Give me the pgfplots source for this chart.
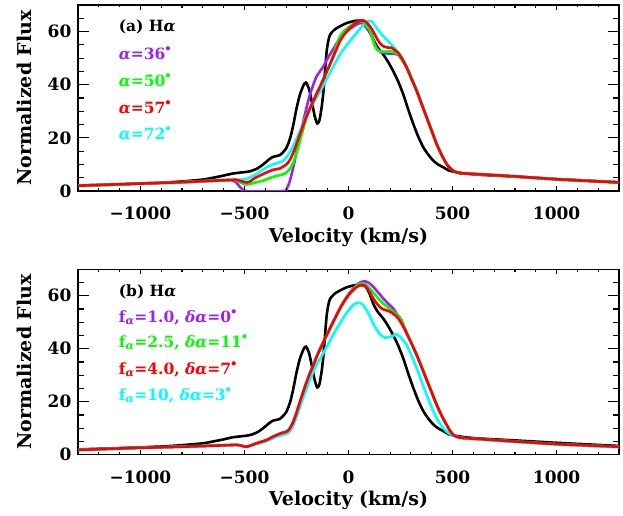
\documentclass[border=0pt]{standalone}
\usepackage{graphicx}
\usepackage{fontspec}
\setmainfont{DejaVu Serif}
\usepackage{pgfplots}
\usepackage{pgfplotstable}
\pgfplotsset{compat=1.18}

\definecolor{idlpurple}{RGB}{160,32,240}
\definecolor{idlgreen}{RGB}{0,255,0}
\definecolor{idlcyan}{RGB}{0,255,255}
\definecolor{idlred}{RGB}{255,0,0}
\newcommand{\dg}{\raisebox{0.52em}{\scalebox{0.75}{$\bullet$}}}
\newcommand{\al}{{\itshape α}}

% observed profile (black), same in both panels
\pgfplotstableread{
v F
-1300 2.0
-1100 2.5
-900 3.1
-800 3.6
-700 4.3
-650 5.0
-600 5.8
-554 6.6
-500 7.1
-474 7.4
-440 8.4
-410 10.0
-380 12.0
-361 12.9
-330 13.5
-300 16.0
-280 20.0
-265 25.0
-250 31.0
-233 36.4
-215 40.0
-204 40.8
-190 38.5
-177 33.9
-162 28.0
-150 25.4
-140 26.5
-130 31.0
-121 37.0
-113 45.0
-105 52.5
-97 56.5
-89 58.8
-73 60.3
-57 61.3
-9 63.2
39 64.1
79 63.7
100 61.0
119 57.0
140 54.0
167 51.4
191 48.5
215 45.1
240 41.0
263 36.4
290 30.0
312 25.1
336 20.3
360 16.4
384 13.6
408 11.4
430 10.0
456 8.9
480 7.8
504 7.3
560 6.6
632 6.1
800 5.4
1000 4.5
1150 3.9
1300 3.3
}\obs

% ---------- panel (a) ----------
\pgfplotstableread{
v F
-1300 2.0
-1000 2.8
-800 3.3
-650 3.8
-560 4.0
-540 3.2
-525 1.8
-510 0.7
-495 0.0
-310 0.0
-297 0.9
-285 3.0
-273 6.4
-261 10.5
-249 15.1
-233 21.0
-217 26.4
-201 31.5
-185 36.4
-169 40.0
-153 43.2
-121 46.8
-105 49.2
-89 51.4
-65 54.5
-41 57.6
-17 59.5
7 61.0
31 62.3
55 63.2
70 63.0
85 61.5
103 59.5
120 56.5
135 53.9
151 52.5
167 52.0
199 51.6
220 51.6
239 51.2
260 49.0
280 46.4
304 42.0
328 37.6
352 32.6
376 27.6
400 22.6
424 17.6
448 13.5
472 10.1
488 8.6
504 7.6
520 7.0
536 6.7
580 6.5
632 6.3
800 5.5
1000 4.4
1150 3.8
1300 3.2
}\aP

\pgfplotstableread{
v F
-1300 2.0
-1000 2.8
-810 3.3
-650 3.9
-560 4.2
-538 4.0
-514 3.0
-490 2.4
-466 2.8
-442 3.3
-410 3.9
-378 4.9
-345 5.7
-313 6.3
-297 7.0
-281 8.4
-265 10.8
-249 14.5
-233 18.9
-217 23.5
-201 27.8
-185 31.1
-169 33.9
-153 36.7
-137 39.2
-113 43.5
-89 47.8
-65 53.0
-41 58.2
-17 60.5
7 62.0
31 63.2
55 64.0
71 63.8
87 62.0
103 60.7
115 57.5
127 54.5
139 53.0
151 52.6
175 52.4
199 52.6
220 52.2
239 51.4
260 49.0
280 46.4
304 42.0
328 37.6
352 32.6
376 27.6
400 22.6
424 17.6
448 13.5
472 10.1
488 8.6
504 7.6
520 7.0
536 6.7
580 6.5
632 6.3
800 5.5
1000 4.4
1150 3.8
1300 3.2
}\aG

\pgfplotstableread{
v F
-1300 2.0
-1000 2.8
-810 3.3
-650 3.9
-560 4.2
-538 4.2
-514 4.3
-490 4.5
-466 5.4
-442 6.4
-418 7.7
-394 8.9
-370 9.8
-345 10.4
-313 11.4
-297 12.8
-281 14.6
-265 17.0
-249 19.8
-233 22.6
-217 25.6
-201 28.7
-169 33.2
-137 37.4
-113 41.0
-89 44.5
-65 48.0
-41 51.4
-17 54.0
7 56.4
39 59.5
71 62.5
95 64.0
115 63.5
135 61.4
151 59.8
167 58.2
183 57.0
199 55.7
219 54.0
239 52.0
264 49.0
288 45.5
312 41.2
336 36.4
360 31.4
384 26.3
408 21.3
432 16.3
456 12.3
480 9.3
504 7.6
520 7.0
536 6.7
580 6.5
632 6.3
800 5.5
1000 4.4
1150 3.8
1300 3.2
}\aC

\pgfplotstableread{
v F
-1300 2.0
-1000 2.8
-810 3.3
-650 3.9
-560 4.2
-538 4.2
-510 3.6
-490 3.2
-470 3.7
-458 4.5
-434 5.5
-410 6.4
-385 7.3
-361 8.0
-329 8.5
-297 10.1
-281 11.8
-265 14.5
-249 17.8
-233 21.4
-217 24.9
-201 28.2
-185 31.1
-169 33.9
-153 36.7
-137 39.2
-113 43.5
-89 47.6
-65 52.0
-41 56.4
-17 59.3
7 61.4
31 63.0
55 64.1
71 64.2
87 63.4
103 62.0
119 60.0
135 57.6
151 55.6
167 54.5
187 54.0
207 53.9
223 53.0
239 52.0
260 49.5
280 46.4
304 42.0
328 37.6
352 32.6
376 27.6
400 22.6
424 17.6
448 13.5
472 10.1
488 8.6
504 7.6
520 7.0
536 6.7
580 6.5
632 6.3
800 5.5
1000 4.4
1150 3.8
1300 3.2
}\aR

% ---------- panel (b) ----------
\pgfplotstableread{
v F
-1300 1.8
-1000 2.6
-810 3.0
-650 3.4
-538 3.7
-510 3.3
-490 3.0
-466 3.6
-442 4.3
-418 4.9
-394 5.5
-370 6.5
-345 7.4
-320 8.2
-297 8.7
-281 10.0
-265 12.5
-249 16.0
-233 20.0
-217 23.8
-201 27.5
-185 30.8
-169 33.8
-153 37.0
-137 39.8
-113 43.8
-89 47.7
-65 51.5
-41 55.4
-17 58.6
7 61.3
31 63.5
55 65.0
79 65.5
99 64.8
119 63.4
143 61.2
167 59.0
191 57.0
215 55.2
235 52.8
255 50.8
280 45.8
304 41.8
328 37.6
352 33.0
376 28.2
400 23.5
424 18.8
448 14.7
472 11.2
488 9.0
504 7.4
520 6.8
536 6.4
632 5.9
800 5.0
1000 4.0
1150 3.5
1300 3.0
}\bP

\pgfplotstableread{
v F
-1300 1.8
-1000 2.6
-810 3.0
-650 3.4
-538 3.7
-510 3.3
-490 3.0
-466 3.6
-442 4.3
-418 4.9
-394 5.5
-370 6.5
-345 7.4
-320 8.2
-297 8.7
-281 10.0
-265 12.5
-249 16.0
-233 20.0
-217 23.8
-201 27.5
-185 30.8
-169 33.8
-153 37.0
-137 39.8
-113 43.8
-89 47.7
-65 51.5
-41 55.3
-17 58.4
7 61.1
31 63.2
55 64.6
79 64.4
99 63.0
119 61.2
143 59.0
167 57.1
191 55.5
215 54.0
239 52.3
255 50.6
280 45.8
304 41.8
328 37.6
352 33.0
376 28.2
400 23.5
424 18.8
448 14.7
472 11.2
488 9.0
504 7.4
520 6.8
536 6.4
632 5.9
800 5.0
1000 4.0
1150 3.5
1300 3.0
}\bG

\pgfplotstableread{
v F
-1300 1.8
-1000 2.6
-810 3.0
-650 3.4
-538 3.6
-490 3.0
-442 4.0
-394 5.1
-345 6.8
-297 8.0
-281 9.0
-265 11.2
-249 14.5
-233 18.1
-217 21.6
-201 25.0
-185 28.3
-169 31.3
-153 34.2
-137 36.2
-113 39.5
-89 43.0
-65 46.5
-41 49.6
-17 52.6
7 55.2
27 56.8
47 57.4
67 56.8
87 54.6
107 51.5
127 48.3
151 45.5
175 44.2
200 44.5
231 45.4
255 44.0
280 41.4
304 37.2
328 32.6
352 27.5
376 22.5
400 17.8
424 13.7
448 10.8
472 8.7
496 7.5
520 6.8
536 6.4
632 5.7
800 4.8
1000 3.9
1150 3.3
1300 2.8
}\bC

\pgfplotstableread{
v F
-1300 1.8
-1000 2.6
-810 3.0
-650 3.4
-538 3.7
-510 3.3
-490 3.0
-466 3.6
-442 4.3
-418 4.9
-394 5.5
-370 6.5
-345 7.4
-320 8.2
-297 8.7
-281 10.0
-265 12.5
-249 16.0
-233 20.0
-217 23.8
-201 27.5
-185 30.8
-169 33.8
-153 37.0
-137 39.8
-113 43.8
-89 47.7
-65 51.5
-41 55.2
-17 58.3
7 60.9
31 62.8
55 64.0
79 63.8
99 61.8
119 59.0
139 56.8
159 55.2
179 54.6
199 54.0
219 53.0
239 51.5
260 48.8
280 45.8
304 41.8
328 37.6
352 33.0
376 28.2
400 23.5
424 18.8
448 14.7
472 11.2
488 9.0
504 7.4
520 6.8
536 6.4
632 5.9
800 5.0
1000 4.0
1150 3.5
1300 3.0
}\bR

\pgfplotsset{
  idl/.style={
    scale only axis,
    anchor=south west,
    width=541pt,
    xmin=-1300, xmax=1300,
    ymin=0, ymax=70,
    xtick={-1000,-500,0,500,1000},
    xticklabels={−1000,−500,0,500,1000},
    ytick={0,20,40,60},
    minor x tick num=4,
    minor y tick num=3,
    tick align=inside,
    xtick style={draw=black,line width=1.1pt,/pgfplots/major tick length=4.5pt,/pgfplots/minor tick length=2.5pt},
    ytick style={draw=black,line width=1.1pt,/pgfplots/major tick length=11pt,/pgfplots/minor tick length=6pt},
    every axis/.append style={line width=1.6pt},
    /pgf/number format/assume math mode=true,
    tick label style={font=\fontsize{17}{17}\selectfont\bfseries},
    label style={font=\fontsize{19}{19}\selectfont\bfseries},
    xticklabel style={anchor=center,yshift=-22.5pt},
    yticklabel style={anchor=east,xshift=-2.5pt},
    xlabel={Velocity (km/s)},
    ylabel={Normalized Flux},
    xlabel style={at={(axis description cs:0.5,0)},anchor=center,rotate=0,yshift=-46pt},
    ylabel style={at={(axis description cs:0,0.5)},anchor=center,rotate=0,yshift=54pt},
  },
  crv/.style={line width=2.6pt, smooth, tension=0.4},
}
\tikzset{leg/.style={anchor=west,inner sep=0pt,font=\fontsize{15.5}{15.5}\selectfont\bfseries},
  tk/.style={black,line width=1.1pt}}

% inward tick marks on all four sides (axis decoration, absolute axis coordinates)
\newcommand{\idlticks}{%
  \pgfplotsinvokeforeach{-1200,-1100,-900,-800,-700,-600,-400,-300,-200,-100,100,200,300,400,600,700,800,900,1100,1200}{%
    \draw[tk] (axis cs:##1,0) -- (axis cs:##1,0.94);
    \draw[tk] (axis cs:##1,70) -- (axis cs:##1,69.06);}
  \pgfplotsinvokeforeach{-1000,-500,0,500,1000}{%
    \draw[tk] (axis cs:##1,0) -- (axis cs:##1,1.69);
    \draw[tk] (axis cs:##1,70) -- (axis cs:##1,68.31);}
  \pgfplotsinvokeforeach{5,10,15,25,30,35,45,50,55,65}{%
    \draw[tk] (axis cs:-1300,##1) -- (axis cs:-1271.2,##1);
    \draw[tk] (axis cs:1300,##1) -- (axis cs:1271.2,##1);}
  \pgfplotsinvokeforeach{20,40,60}{%
    \draw[tk] (axis cs:-1300,##1) -- (axis cs:-1247.1,##1);
    \draw[tk] (axis cs:1300,##1) -- (axis cs:1247.1,##1);}
}

\begin{document}
\begin{tikzpicture}
\path (0,0) rectangle (623pt,516pt);
% ---- panel (a)
\begin{axis}[idl, at={(78pt,325pt)}, height=186pt]
\addplot[crv,black] table[x=v,y=F]{\obs};
\addplot[crv,idlpurple] table[x=v,y=F]{\aP};
\addplot[crv,idlcyan] table[x=v,y=F]{\aC};
\addplot[crv,idlgreen] table[x=v,y=F]{\aG};
\addplot[crv,idlred] table[x=v,y=F]{\aR};
\idlticks
\node[leg,black] at (rel axis cs:0.074,0.882) {(a) H\al};
\node[leg,idlpurple] at (rel axis cs:0.074,0.742) {\al=36\dg};
\node[leg,idlgreen] at (rel axis cs:0.074,0.597) {\al=50\dg};
\node[leg,idlred] at (rel axis cs:0.074,0.452) {\al=57\dg};
\node[leg,idlcyan] at (rel axis cs:0.074,0.312) {\al=72\dg};
\end{axis}
% ---- panel (b)
\begin{axis}[idl, at={(78pt,61.3pt)}, height=185.4pt]
\addplot[crv,black] table[x=v,y=F]{\obs};
\addplot[crv,idlpurple] table[x=v,y=F]{\bP};
\addplot[crv,idlgreen] table[x=v,y=F]{\bG};
\addplot[crv,idlcyan] table[x=v,y=F]{\bC};
\addplot[crv,idlred] table[x=v,y=F]{\bR};
\idlticks
\node[leg,black] at (rel axis cs:0.074,0.878) {(b) H\al};
\node[leg,idlpurple] at (rel axis cs:0.074,0.743) {f\textsubscript{\al}=1.0, \textit{δ}\al=0\dg};
\node[leg,idlgreen] at (rel axis cs:0.074,0.608) {f\textsubscript{\al}=2.5, \textit{δ}\al=11\dg};
\node[leg,idlred] at (rel axis cs:0.074,0.462) {f\textsubscript{\al}=4.0, \textit{δ}\al=7\dg};
\node[leg,idlcyan] at (rel axis cs:0.074,0.322) {f\textsubscript{\al}=10, \textit{δ}\al=3\dg};
\end{axis}
\end{tikzpicture}
\end{document}
